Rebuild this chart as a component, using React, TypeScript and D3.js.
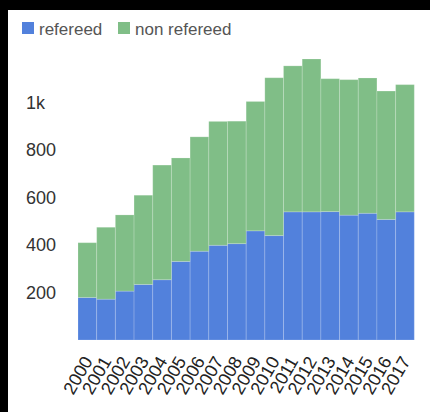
import React from "react";
import * as d3 from "d3";

const years = ["2000","2001","2002","2003","2004","2005","2006","2007","2008","2009","2010","2011","2012","2013","2014","2015","2016","2017"];
const refereed = [179,172,206,234,254,331,374,399,406,460,440,540,540,541,526,534,508,540];
const nonRefereed = [231,303,321,376,483,436,482,522,516,545,665,615,644,560,571,570,541,536];
const yTicks = [200,400,600,800,1000];
const seriesNames = ["refereed","non refereed"];
const colors = ["#5281dc","#80be87"];

export default function App() {
  const W = 430, H = 412;
  const x = d3.scaleBand<string>().domain(years).range([78, 414.3]).padding(0);
  const y = d3.scaleLinear().domain([0, 1200]).range([340, 55.2]);
  const rows = years.map((yr, i) => ({ year: yr, refereed: refereed[i], non: nonRefereed[i] }));
  const stack = d3.stack<any>().keys(["refereed", "non"])(rows);
  const fmt = (v: number) => (v >= 1000 ? `${v / 1000}k` : `${v}`);
  const font = "'Liberation Sans', Arial, Helvetica, sans-serif";
  return (
    <svg width={W} height={H} style={{ position: "absolute", left: 0, top: 0 }} fontFamily={font}>
      <rect x={0} y={0} width={W} height={H} fill="#000" />
      <rect x={8} y={10} width={W - 8} height={H - 10} fill="#fff" />
      {seriesNames.map((n, i) => {
        const lx = i === 0 ? 22 : 118;
        return (
          <g key={n}>
            <rect x={lx} y={22} width={12} height={12} fill={colors[i]} />
            <text x={lx + 17} y={35} fontSize={17} fill="#555">{n}</text>
          </g>
        );
      })}
      {yTicks.map((t) => (
        <text key={t} x={26} y={y(t)} dy="0.35em" fontSize={18} fill="#333">{fmt(t)}</text>
      ))}
      {stack.map((s, si) => (
        <g key={si}>
          {s.map((d: any, i: number) => (
            <rect key={i} x={x(years[i])} y={y(d[1])} width={x.bandwidth()} height={y(d[0]) - y(d[1])}
              fill={colors[si]} stroke="rgba(255,255,255,0.18)" strokeWidth={1} />
          ))}
        </g>
      ))}
      {years.map((yr) => {
        const cx = (x(yr) as number) + x.bandwidth() / 2 + 6;
        const cy = 361;
        return (
          <text key={yr} x={cx} y={cy} fontSize={18} fill="#222" textAnchor="end"
            transform={`rotate(-60 ${cx} ${cy})`}>{yr}</text>
        );
      })}
    </svg>
  );
}
